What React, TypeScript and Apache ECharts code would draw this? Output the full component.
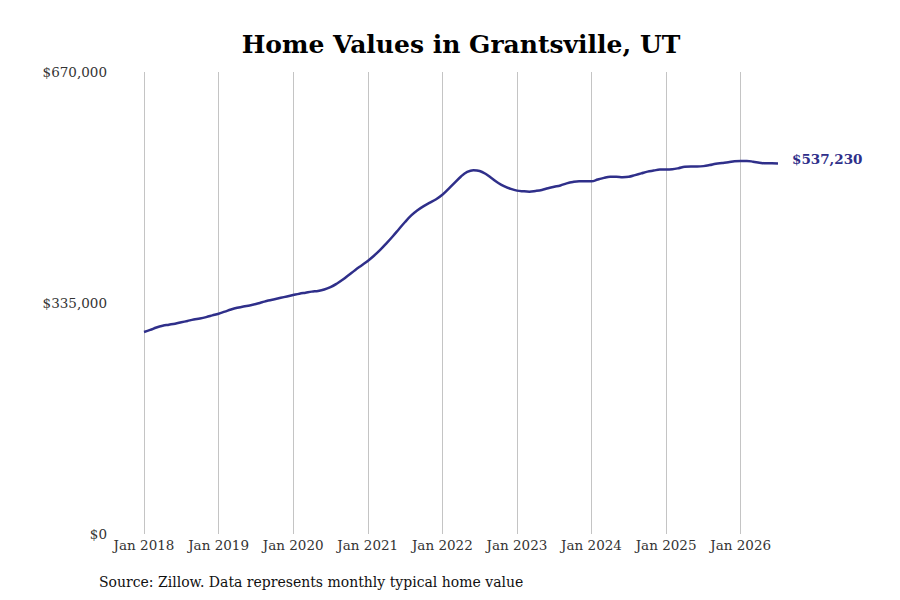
import React, { useEffect, useRef } from "react";
import * as echarts from "echarts";

const YEARS = [2018, 2019, 2020, 2021, 2022, 2023, 2024, 2025, 2026];
const MONTHS = ["Jan", "Feb", "Mar", "Apr", "May", "Jun", "Jul", "Aug", "Sep", "Oct", "Nov", "Dec"];
const MONTH_COUNT = 103; // Jan 2018 .. Jul 2026

const homeValues = [
  293000, 296000, 299500, 302000, 303500, 305000, 307000, 309000, 311000, 312500, 314500, 317000,
  319500, 322500, 325500, 328000, 330000, 331500, 333500, 336000, 338500, 340500, 342500, 344500,
  346500, 348500, 350000, 351500, 352500, 354500, 358000, 363000, 369000, 376000, 383000, 389500,
  396000, 403500, 412000, 421500, 431500, 442000, 452500, 462000, 469500, 475500, 480500, 485500,
  492000, 500500, 509500, 518500, 525000, 527500, 526500, 522000, 515500, 509000, 504000, 500500,
  498000, 497000, 496500, 497500, 499000, 501500, 503500, 505500, 508500, 510500, 511500, 511500,
  511500, 514000, 516500, 518000, 518000, 517500, 518000, 520500, 523000, 525500, 527000, 528500,
  528500, 529000, 530500, 532500, 533000, 533000, 533500, 535000, 537000, 538000, 539000, 540500,
  541000, 541000, 540000, 538500, 537500, 537500, 537230,
];

const yTicks = [0, 335000, 670000];

const TITLE = "Home Values in Grantsville, UT";
const SOURCE = "Source: Zillow. Data represents monthly typical home value";

const categories: string[] = [];
for (let i = 0; i < MONTH_COUNT; i++) {
  categories.push(MONTHS[i % 12] + " " + YEARS[Math.floor(i / 12)]);
}

const FONT = "'DejaVu Serif', serif";
const LINE_COLOR = "#2f2f8a";

const fmt = (v: number) => "$" + Math.round(v).toLocaleString("en-US");

export default function App() {
  const ref = useRef<HTMLDivElement>(null);
  useEffect(() => {
    document.body.style.margin = "0";
    if (!ref.current) return;
    const chart = echarts.init(ref.current, null, { renderer: "svg" });
    chart.setOption({
      animation: false,
      backgroundColor: "#ffffff",
      textStyle: { fontFamily: FONT },
      grid: { left: 144, right: 122, top: 72, bottom: 66 },
      graphic: [
        {
          type: "text",
          x: 461,
          y: 44,
          style: {
            text: TITLE,
            font: "bold 25px 'DejaVu Serif', serif",
            fill: "#000",
            align: "center",
            verticalAlign: "middle",
          },
        },
        {
          type: "text",
          x: 99,
          y: 582,
          style: {
            text: SOURCE,
            font: "14px 'DejaVu Serif', serif",
            fill: "#111",
            align: "left",
            verticalAlign: "middle",
          },
        },
      ],
      xAxis: {
        type: "category",
        data: categories,
        boundaryGap: false,
        axisLine: { show: false },
        axisTick: { show: false },
        axisLabel: {
          interval: (i: number) => i % 12 === 0,
          formatter: (v: string) => v,
          color: "#333",
          fontSize: 13.5,
          fontFamily: FONT,
          margin: 4,
        },
        splitLine: {
          show: true,
          interval: (i: number) => i % 12 === 0,
          lineStyle: { color: "#c4c4c4", width: 1 },
        },
      },
      yAxis: {
        type: "value",
        min: yTicks[0],
        max: yTicks[yTicks.length - 1],
        interval: yTicks[1] - yTicks[0],
        axisLine: { show: false },
        axisTick: { show: false },
        splitLine: { show: false },
        axisLabel: {
          formatter: (v: number) => fmt(v),
          color: "#333",
          fontSize: 13.5,
          fontFamily: FONT,
          margin: 37,
        },
      },
      series: [
        {
          type: "line",
          data: homeValues,
          smooth: 0.4,
          showSymbol: false,
          symbol: "none",
          lineStyle: { color: LINE_COLOR, width: 2.5 },
          endLabel: {
            show: true,
            formatter: (p: any) => fmt(p.value),
            color: LINE_COLOR,
            fontWeight: "bold",
            fontSize: 13.5,
            fontFamily: FONT,
            distance: 14,
            offset: [0, -5],
          },
        },
      ],
    });
    return () => chart.dispose();
  }, []);
  return <div ref={ref} style={{ width: 900, height: 600 }} />;
}
